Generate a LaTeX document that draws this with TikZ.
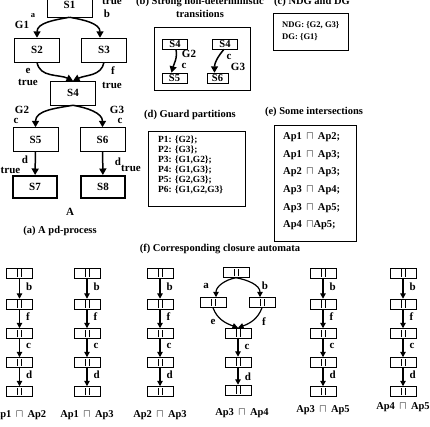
\documentclass[tikz,border=0pt]{standalone}
\usepackage{fontspec}
\setmainfont{Liberation Serif}
\usetikzlibrary{arrows.meta,positioning}

\tikzset{
  every node/.style={font=\bfseries\fontsize{11}{12}\selectfont},
  st/.style={draw, line width=0.5pt, minimum width=45pt, minimum height=24pt, inner sep=0pt},
  fin/.style={st, line width=2.4pt, minimum width=43.6pt, minimum height=21.6pt},
  sm/.style={draw, line width=0.5pt, minimum width=25pt, minimum height=10pt, inner sep=0pt, font=\bfseries\fontsize{10.5}{10.5}\selectfont},
  cell/.style={draw, line width=0.5pt, minimum width=26pt, minimum height=10pt, inner sep=0pt,
    path picture={
      \draw[line width=0.7pt] ([xshift=-1.9pt,yshift=-3.8pt]path picture bounding box.center) -- ++(0,7.6pt);
      \draw[line width=0.7pt] ([xshift=1.9pt,yshift=-3.8pt]path picture bounding box.center) -- ++(0,7.6pt);
    }},
  arr/.style={-{Triangle[length=6.5pt,width=7pt]}, line width=1.5pt},
  thin arr/.style={-{Triangle[length=5.5pt,width=5.5pt]}, line width=1.2pt},
  lbl/.style={inner sep=0pt},
  ttl/.style={inner sep=0pt, font=\bfseries\fontsize{10.5}{13}\selectfont},
  frame/.style={line width=0.5pt}
}

\begin{document}
\begin{tikzpicture}[x=1pt, y=1pt]
  \useasboundingbox (0,0) rectangle (430,-426);

  % (a) pd-process
  \node[st]  (S1) at ( 69.5,   -5) {S1};
  \node[st]  (S2) at ( 37.0,  -50) {S2};
  \node[st]  (S3) at (104.0,  -50) {S3};
  \node[st]  (S4) at ( 73.0,  -93) {S4};
  \node[st]  (S5) at ( 35.5, -139.5) {S5};
  \node[st]  (S6) at (102.5, -139.5) {S6};
  \node[fin] (S7) at ( 35.0, -187) {S7};
  \node[fin] (S8) at (103.0, -187) {S8};

  \draw[arr] (S1.south) to[out=190, in=90] (S2.north);
  \draw[arr] (S1.south) to[out=-10, in=90] ([xshift=-4pt]S3.north);
  \draw[arr] (S2.south) to[out=-80, in=155] (S4.north);
  \draw[arr] (S3.south) to[out=-100, in=25] (S4.north);
  \draw[arr] (S4.south) to[out=190, in=90] (S5.north);
  \draw[arr] (S4.south) to[out=-10, in=90] (S6.north);
  \draw[arr] (S5) -- (S7);
  \draw[arr] (S6) -- (S8);

  \node[lbl] (tS1) at (112,   -1) {true};
  \node[lbl] (bS1) at (107,  -14) {b};
  \node[lbl] (gS1) at ( 22,  -25) {G1};
  \node[lbl,font=\bfseries\fontsize{8.5}{8.5}\selectfont] (aS1) at ( 33, -15.5) {a};
  \node[lbl] (eS2) at ( 28,  -71) {e};
  \node[lbl] (tS2) at ( 28,  -82) {true};
  \node[lbl] (fS3) at (113,  -71) {f};
  \node[lbl] (tS3) at (112,  -85) {true};
  \node[lbl] (gS5) at ( 22, -109.5) {G2};
  \node[lbl] (cS5) at ( 16, -121) {c};
  \node[lbl] (gS6) at (117, -109.5) {G3};
  \node[lbl] (cS6) at (120, -121) {c};
  \node[lbl] (dS7) at ( 25, -160) {d};
  \node[lbl] (tS7) at ( 10.5, -170) {true};
  \node[lbl] (dS8) at (118, -162) {d};
  \node[lbl] (tS8) at (131, -168) {true};
  \node[lbl] (A)   at ( 70, -212) {A};
  \node[ttl] (ta)  at ( 60, -231) {(a) A pd-process};

  % (b) strong non-deterministic transitions
  \node[ttl, align=center] (tb) at (200, -7) {(b) Strong non-deterministic\\transitions};
  \draw[frame] (154,-27) rectangle (250,-90);
  \node[sm] (bS4a) at (175.0, -44) {S4};
  \node[sm] (bS5)  at (174.5, -78) {S5};
  \node[sm] (bS4b) at (225.0, -44) {S4};
  \node[sm, minimum width=21pt] (bS6) at (217.5, -78) {S6};
  \draw[arr] ([xshift=1pt]bS4a.south) to[out=-80, in=75] ([xshift=-3pt]bS5.north);
  \draw[arr] ([xshift=-1pt]bS4b.south) to[out=-130, in=90] ([xshift=-3pt]bS6.north);
  \node[lbl] (gb5) at (189, -53.5) {G2};
  \node[lbl] (cb5) at (184, -66) {c};
  \node[lbl] (cb6) at (229, -57) {c};
  \node[lbl] (gb6) at (238, -67) {G3};

  % (c) NDG and DG
  \node[ttl] (tc) at (312, -2) {(c) NDG and DG};
  \draw[frame] (273,-13) rectangle (348,-50);
  \node[lbl, anchor=west, font=\bfseries\fontsize{8.6}{8.6}\selectfont] (ndg) at (282,-25) {NDG: \{G2, G3\}};
  \node[lbl, anchor=west, font=\bfseries\fontsize{8.6}{8.6}\selectfont] (dg)  at (282,-37) {DG: \{G1\}};

  % (d) guard partitions
  \node[ttl] (td) at (190, -115) {(d) Guard partitions};
  \draw[frame] (148,-131) rectangle (245,-206);
  \foreach \i/\t in {1/{P1: \{G2\};}, 2/{P2: \{G3\};}, 3/{P3: \{G1,G2\};},
                     4/{P4: \{G1,G3\};}, 5/{P5: \{G2,G3\};}, 6/{P6: \{G1,G2,G3\}}}
    \node[lbl, anchor=west, font=\bfseries\fontsize{9.4}{9.4}\selectfont] (p\i) at (158,{-140-9.9*(\i-1)}) {\t};

  % (e) some intersections
  \node[ttl] (te) at (314, -112) {(e) Some intersections};
  \draw[frame] (274,-125) rectangle (356,-241);
  \foreach \i/\t in {1/{Ap1 \,$\sqcap$\, Ap2;}, 2/{Ap1 \,$\sqcap$\, Ap3;}, 3/{Ap2 \,$\sqcap$\, Ap3;},
                     4/{Ap3 \,$\sqcap$\, Ap4;}, 5/{Ap3 \,$\sqcap$\, Ap5;}, 6/{Ap4 \,$\sqcap$Ap5;}}
    \node[lbl, anchor=west, font=\bfseries\fontsize{10.5}{10.5}\selectfont] (ap\i) at (283,{-137-17.7*(\i-1)}) {\t};

  % (f) corresponding closure automata
  \node[ttl] (tf) at (220, -249) {(f) Corresponding closure automata};

  \foreach \x/\k/\cap/\cy in {19.5/1/{Ap1 \,$\sqcap$\, Ap2}/415, 87/2/{Ap1 \,$\sqcap$\, Ap3}/415,
                              160/3/{Ap2 \,$\sqcap$\, Ap3}/415, 323/5/{Ap3 \,$\sqcap$\, Ap5}/410,
                              403/6/{Ap4 \,$\sqcap$\, Ap5}/407} {
    \foreach \r/\y in {1/273, 2/304, 3/333.5, 4/362.5, 5/391.5}
      \node[cell] (c\k-\r) at (\x,-\y) {};
    \foreach \a/\b/\l in {1/2/b, 2/3/f, 3/4/c, 4/5/d}
      \draw[thin arr] (c\k-\a) -- (c\k-\b) node[lbl, midway, right=6pt, yshift=2pt] (l\k-\a) {\l};
    \node[lbl, font=\bfseries\fontsize{10.5}{10.5}\selectfont] (cap\k) at (\x,-\cy) {\cap};
  }

  % column with the fork
  \node[cell] (c4-1) at (236, -272.5) {};
  \node[cell] (c4-L) at (213, -302.5) {};
  \node[cell] (c4-R) at (262, -302.5) {};
  \node[cell] (c4-3) at (238, -333)   {};
  \node[cell] (c4-4) at (238, -362)   {};
  \node[cell] (c4-5) at (238, -390)   {};
  \draw[thin arr] (c4-1.south) to[out=190, in=90] ([xshift=3pt]c4-L.north);
  \draw[thin arr] (c4-1.south) to[out=-10, in=90] ([xshift=-2pt]c4-R.north);
  \draw[thin arr] (c4-L.south) to[out=-70, in=160] (c4-3.north);
  \draw[thin arr] (c4-R.south) to[out=-110, in=20] (c4-3.north);
  \draw[thin arr] (c4-3) -- (c4-4);
  \draw[thin arr] (c4-4) -- (c4-5);
  \node[lbl] (l4-a) at (206, -286) {a};
  \node[lbl] (l4-b) at (265, -286) {b};
  \node[lbl] (l4-e) at (213, -322) {e};
  \node[lbl] (l4-f) at (264, -322) {f};
  \node[lbl] (l4-c) at (247, -347) {c};
  \node[lbl] (l4-d) at (248, -377) {d};
  \node[lbl, font=\bfseries\fontsize{10.5}{10.5}\selectfont] (cap4) at (242, -413) {Ap3 \,$\sqcap$\, Ap4};
\end{tikzpicture}
\end{document}
